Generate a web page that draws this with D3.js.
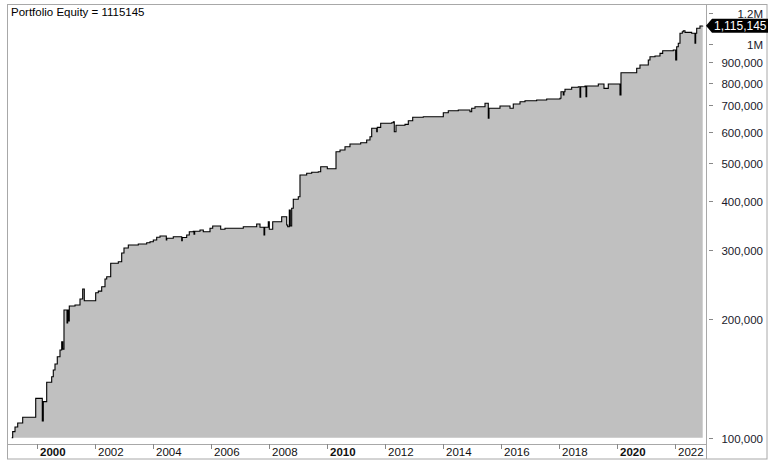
<!DOCTYPE html>
<html><head><meta charset="utf-8">
<script src="https://cdn.jsdelivr.net/npm/d3@7"></script>
<style>
html,body{margin:0;padding:0;background:#fff;}
svg{display:block;font-family:"Liberation Sans",Arial,sans-serif;}
</style></head>
<body>
<svg id="chart" width="768" height="464"></svg>
<script>
const title = "Portfolio Equity = 1115145";
const lastLabel = "1,115,145";

// equity curve: decimal year and equity value
const dates = [1999.138,1999.172,1999.252,1999.345,1999.517,1999.966,2000.193,2000.228,2000.345,2000.517,
2000.572,2000.631,2000.710,2000.803,2000.862,2000.897,2000.941,2001.045,2001.069,2001.103,
2001.124,2001.321,2001.493,2001.586,2001.641,2002.034,2002.124,2002.241,2002.355,2002.414,
2002.552,2002.814,2002.931,2003.010,2003.159,2003.503,2003.793,2003.907,2004.021,2004.138,
2004.252,2004.469,2004.486,2004.710,2005.000,2005.021,2005.172,2005.262,2005.400,2005.424,
2005.448,2005.631,2005.745,2005.976,2006.069,2006.345,2006.493,2007.124,2007.586,2007.700,
2007.838,2007.862,2007.986,2008.021,2008.138,2008.448,2008.621,2008.655,2008.710,2008.745,
2008.793,2008.848,2009.021,2009.079,2009.310,2009.483,2009.710,2009.793,2010.021,2010.321,
2010.459,2010.631,2010.803,2011.172,2011.379,2011.493,2011.552,2011.724,2011.745,2011.862,
2012.241,2012.297,2012.331,2012.390,2012.700,2012.814,2012.966,2013.331,2014.021,2014.193,
2014.538,2014.941,2015.000,2015.114,2015.459,2015.572,2015.597,2015.976,2016.321,2016.434,
2016.666,2016.838,2017.241,2017.586,2018.045,2018.079,2018.159,2018.183,2018.217,2018.448,
2018.676,2018.734,2018.759,2018.907,2018.941,2018.966,2019.366,2019.562,2019.710,2020.114,
2020.148,2020.690,2020.803,2021.090,2021.148,2021.321,2021.493,2021.586,2021.952,2022.034,
2022.069,2022.124,2022.183,2022.262,2022.297,2022.355,2022.586,2022.700,2022.724,2022.759,
2022.872,2022.966];
const equity = [100000,103600,106500,109000,112700,125900,110300,123500,138300,142900,
148600,154000,160700,167100,175400,168000,211200,195700,211000,198000,
216200,217500,225300,238800,223000,233700,235900,242100,253200,256700,
277600,280200,294900,303600,309000,310800,313200,315000,318200,323300,
325700,318200,321400,324400,316900,323000,327700,334100,334900,329000,
334900,337400,334100,340800,345400,338800,340800,344000,349500,342800,
327700,342800,354200,338800,354200,364700,347400,344000,379300,345400,
383100,403800,410000,465600,470200,473000,474700,488800,483000,533600,
538900,549400,558200,562500,571500,582600,612000,599900,615500,630100,
632400,636100,599900,622800,626400,639800,652700,655000,670500,678400,
681200,674500,688000,694500,708400,648900,688000,697300,688000,705600,
715100,719300,722300,726500,729500,758200,743700,758200,768900,778000,
780700,733800,780700,783900,736300,783900,793100,773400,793100,743700,
847400,869600,886500,912800,930600,934400,949300,963900,967900,912800,
986700,1006600,1067300,1077300,1083600,1073500,1067300,1006600,1067300,1099000,
1113900,1115145];

const xTickYears = [2000,2002,2004,2006,2008,2010,2012,2014,2016,2018,2020,2022];
const xTickLabels = ["2000","2002","2004","2006","2008","2010","2012","2014","2016","2018","2020","2022"];
const boldYears = [2000,2010,2020];
const yTickValues = [100000,200000,300000,400000,500000,600000,700000,800000,900000,1000000,1200000];
const yTickLabels = ["100,000","200,000","300,000","400,000","500,000","600,000","700,000","800,000","900,000","1M","1.2M"];

const data = dates.map((d,i)=>({t:d, v:equity[i]}));

const svg = d3.select("#chart");
const frameL = 7, frameT = 4.5, frameR = 767, frameB = 459, axisX = 706, axisY = 444;

const x = d3.scaleLinear().domain([dates[0], dates[dates.length-1]]).range([11.7, 702.7]);
const y = d3.scaleLog().domain([100000, 1200000]).range([437.7, 13.3]);

// area + line
const area = d3.area().curve(d3.curveStepAfter)
  .x(d=>x(d.t)).y0(y(100000)).y1(d=>y(d.v));
const line = d3.line().curve(d3.curveStepAfter)
  .x(d=>x(d.t)).y(d=>y(d.v));

svg.append("path").datum(data).attr("d", area).attr("fill", "#c0c0c0");
svg.append("path").datum(data).attr("d", line).attr("fill","none")
  .attr("stroke","#000").attr("stroke-width",1.1);

// frame
const fc = "#a8a8a8";
svg.append("rect").attr("x",frameL+0.5).attr("y",frameT).attr("width",frameR-frameL-0.5).attr("height",frameB-frameT)
  .attr("fill","none").attr("stroke",fc).attr("stroke-width",1);
svg.append("line").attr("x1",frameL).attr("x2",axisX).attr("y1",axisY+0.5).attr("y2",axisY+0.5).attr("stroke",fc);
svg.append("line").attr("x1",axisX+0.5).attr("x2",axisX+0.5).attr("y1",frameT).attr("y2",frameB).attr("stroke",fc);

// title
svg.append("text").attr("x",11).attr("y",16).attr("font-size","11.5px").attr("fill","#000").text(title);

// x axis
const xg = svg.append("g");
xTickYears.forEach((yr,i)=>{
  const px = Math.round(x(yr))+0.5;
  xg.append("line").attr("x1",px).attr("x2",px).attr("y1",axisY).attr("y2",axisY+5).attr("stroke","#888");
  xg.append("text").attr("x",px+2.5).attr("y",456).attr("font-size","11.5px")
    .attr("font-weight", boldYears.includes(yr)?"bold":"normal").attr("fill","#111").text(xTickLabels[i]);
});

// y axis
const yg = svg.append("g");
yTickValues.forEach((v,i)=>{
  const py = Math.round(y(v))+0.5;
  yg.append("line").attr("x1",709).attr("x2",713).attr("y1",py).attr("y2",py).attr("stroke","#888");
  yg.append("text").attr("x",763).attr("y",py+4).attr("text-anchor","end").attr("font-size","11.5px")
    .attr("fill","#1a1a2a").text(yTickLabels[i]);
});
// intermediate 1.1M tick
yg.append("line").attr("x1",709).attr("x2",713).attr("y1",Math.round(y(1100000))+0.5).attr("y2",Math.round(y(1100000))+0.5).attr("stroke","#888");

// last value tag
const ly = y(equity[equity.length-1]);
svg.append("path").attr("d", `M${axisX},${ly} L${axisX+6},${ly-7} L768,${ly-7} L768,${ly+7} L${axisX+6},${ly+7} Z`).attr("fill","#000");
svg.append("text").attr("x",714).attr("y",ly+4.2).attr("font-size","12px").attr("fill","#fff").text(lastLabel);
</script>
</body></html>
